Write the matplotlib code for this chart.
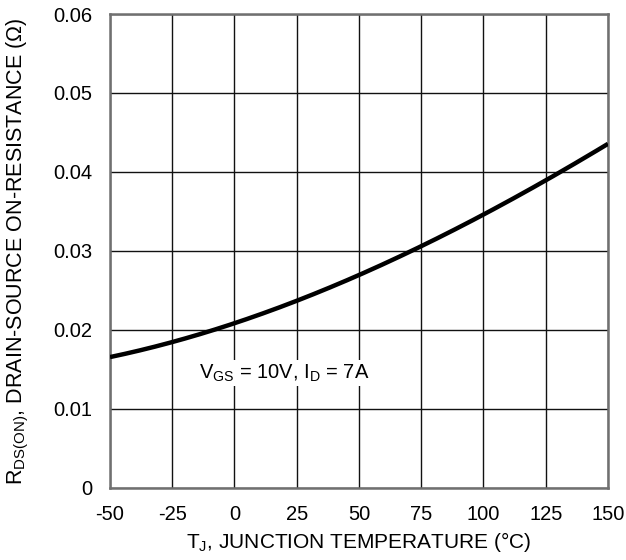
import matplotlib
matplotlib.use("Agg")
import matplotlib.pyplot as plt
import numpy as np

# junction temperature vs. on-resistance
temp_c = [-50, -25, 0, 25, 50, 75, 100, 125, 150]
rds_on = [0.01646, 0.01865, 0.02093, 0.02359, 0.02684, 0.03055, 0.03477, 0.03899, 0.0435]

x_ticks = [-50, -25, 0, 25, 50, 75, 100, 125, 150]
y_ticks = [0, 0.01, 0.02, 0.03, 0.04, 0.05, 0.06]
y_ticklabels = ["0", "0.01", "0.02", "0.03", "0.04", "0.05", "0.06"]

plt.rcParams["font.family"] = ["Liberation Sans", "DejaVu Sans"]
plt.rcParams["mathtext.fontset"] = "custom"
plt.rcParams["mathtext.rm"] = "Liberation Sans"
plt.rcParams["axes.unicode_minus"] = False

fig = plt.figure(figsize=(6.26, 5.6), dpi=100)
ax = fig.add_axes([0.1757, 0.1286, 0.7955, 0.8464])

# smooth curve through the read points
xs = np.linspace(-50, 150, 300)
coef = np.polyfit(temp_c, rds_on, 3)
ax.plot(xs, np.polyval(coef, xs), color="black", lw=3.2, solid_capstyle="butt", zorder=3)

ax.set_xlim(-50, 150)
ax.set_ylim(0, 0.06)
ax.set_xticks(x_ticks)
ax.set_yticks(y_ticks)
ax.set_yticklabels(y_ticklabels)
ax.tick_params(length=0, labelsize=14.5, colors="black")
ax.tick_params(axis="y", pad=13)
ax.tick_params(axis="x", pad=12)
ax.grid(True, color="#111111", lw=1.0)
ax.set_axisbelow(True)
for s in ax.spines.values():
    s.set_color("#707070")
    s.set_linewidth(1.8)

ax.set_xlabel(r"T$_\mathregular{J}$, JUNCTION TEMPERATURE (°C)", fontsize=15)
ax.xaxis.set_label_coords(0.5, -0.088)
ax.set_ylabel(r"R$_\mathregular{DS(ON)}$, DRAIN-SOURCE ON-RESISTANCE (Ω)", fontsize=15.5)
ax.yaxis.set_label_coords(-0.159, 0.5)

ax.text(-14.3, 0.01456, r"V$_\mathregular{GS}$ = 10V, I$_\mathregular{D}$ = 7A", fontsize=14.5,
        va="center", ha="left",
        bbox=dict(facecolor="white", edgecolor="none", pad=1.5), zorder=4)

fig.savefig("out.png", dpi=100)
